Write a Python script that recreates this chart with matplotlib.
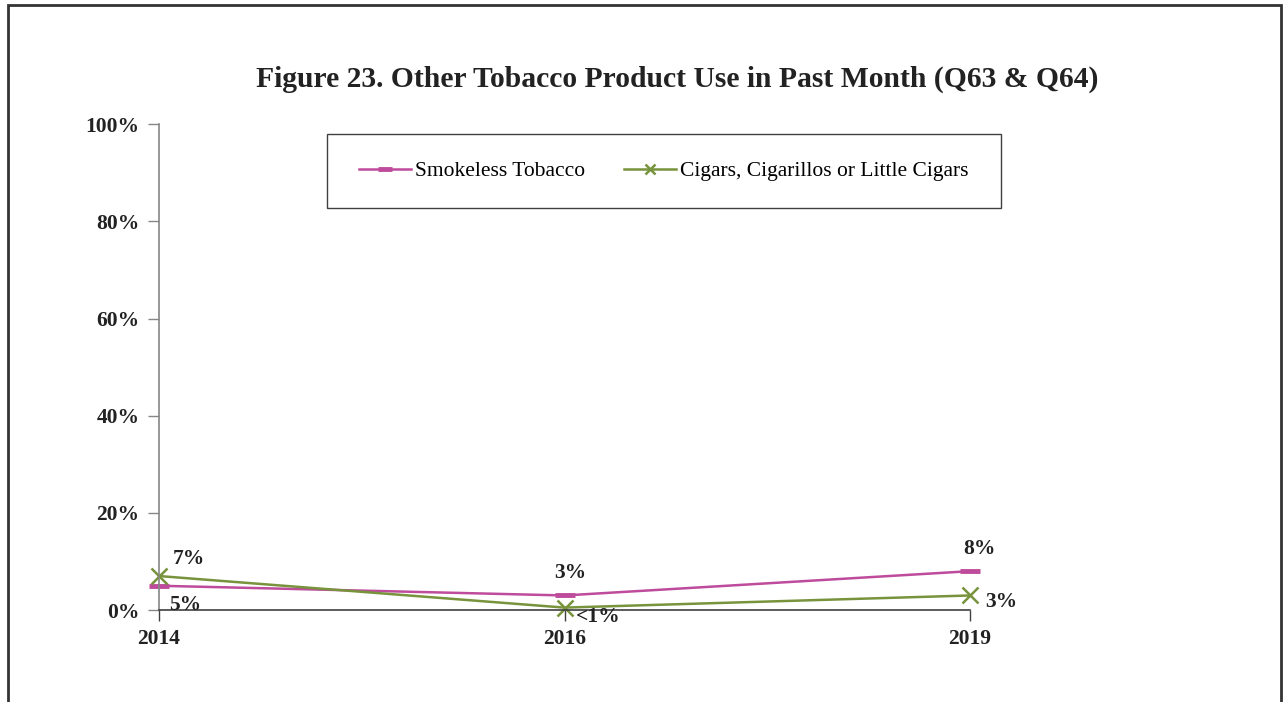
import matplotlib.pyplot as plt
from matplotlib.patches import Rectangle
from matplotlib.ticker import FuncFormatter

# data
years = ['2014', '2016', '2019']
smokeless = [5, 3, 8]
cigars = [7, 0.5, 3]
smokeless_labels = ['5%', '3%', '8%']
cigars_labels = ['7%', '<1%', '3%']

plt.rcParams['font.family'] = ['Liberation Serif', 'DejaVu Serif']

fig = plt.figure(figsize=(12.83, 7.02), dpi=100)
ax = fig.add_axes([0.1239, 0.131, 0.6322, 0.692])

pink = '#BE4B9B'
green = '#77933C'
x = range(len(years))

ax.plot(x, smokeless, color=pink, lw=1.8, marker='_', ms=14, mew=3.5,
        label='Smokeless Tobacco')
ax.plot(x, cigars, color=green, lw=1.8, marker='x', ms=11, mew=1.8,
        label='Cigars, Cigarillos or Little Cigars')

# data labels
lab = dict(fontsize=15.5, fontweight='bold', color='#222222')
ax.annotate(smokeless_labels[0], (0, smokeless[0]), xytext=(7, -14), textcoords='offset points', ha='left', va='center', **lab)
ax.annotate(smokeless_labels[1], (1, smokeless[1]), xytext=(4, 16), textcoords='offset points', ha='center', va='center', **lab)
ax.annotate(smokeless_labels[2], (2, smokeless[2]), xytext=(7, 16), textcoords='offset points', ha='center', va='center', **lab)
ax.annotate(cigars_labels[0], (0, cigars[0]), xytext=(10, 12), textcoords='offset points', ha='left', va='center', **lab)
ax.annotate(cigars_labels[1], (1, cigars[1]), xytext=(8, -7), textcoords='offset points', ha='left', va='center', **lab)
ax.annotate(cigars_labels[2], (2, cigars[2]), xytext=(11, -5), textcoords='offset points', ha='left', va='center', **lab)

ax.set_xlim(0, 2)
ax.set_ylim(0, 100)
ax.set_yticks(range(0, 101, 20))
ax.yaxis.set_major_formatter(FuncFormatter(lambda v, p: f'{int(v)}%'))
ax.set_xticks(list(x))
ax.set_xticklabels(years)
for t in ax.get_xticklabels() + ax.get_yticklabels():
    t.set_fontweight('bold')
    t.set_fontsize(15.5)
    t.set_color('#222222')
ax.tick_params(axis='y', length=8, width=1, color='#868686', pad=6, direction='out')
ax.tick_params(axis='x', length=8, width=1, color='#404040', pad=6, direction='out')

ax.spines['top'].set_visible(False)
ax.spines['right'].set_visible(False)
ax.spines['left'].set_color('#868686')
ax.spines['bottom'].set_color('#404040')
ax.spines['left'].set_linewidth(1.2)
ax.spines['bottom'].set_linewidth(1.2)
ax.set_zorder(1)
ax.patch.set_alpha(0)
for ln in ax.lines:
    ln.set_clip_on(False)

fig.text(0.5277, 0.887, 'Figure 23. Other Tobacco Product Use in Past Month (Q63 & Q64)',
         ha='center', va='center', fontsize=21.3, fontweight='bold', color='#222222')

leg = fig.legend(loc='center', bbox_to_anchor=(0.2549, 0.7037, 0.5253, 0.1054),
                 bbox_transform=fig.transFigure, ncol=2, fontsize=15.5,
                 frameon=False, handlelength=2.4, columnspacing=1.8,
                 handletextpad=0.2, borderaxespad=0, markerscale=0.7)
fig.patches.append(Rectangle((0.2549, 0.7037), 0.5253, 0.1054, transform=fig.transFigure,
                             fill=False, edgecolor='#404040', lw=1.0))

# figure border
fig.patches.append(Rectangle((0.0062, -0.05), 0.9922, 0.9929 + 0.05, transform=fig.transFigure,
                             fill=False, edgecolor='#333333', lw=2))

fig.savefig('out.png', dpi=100)
